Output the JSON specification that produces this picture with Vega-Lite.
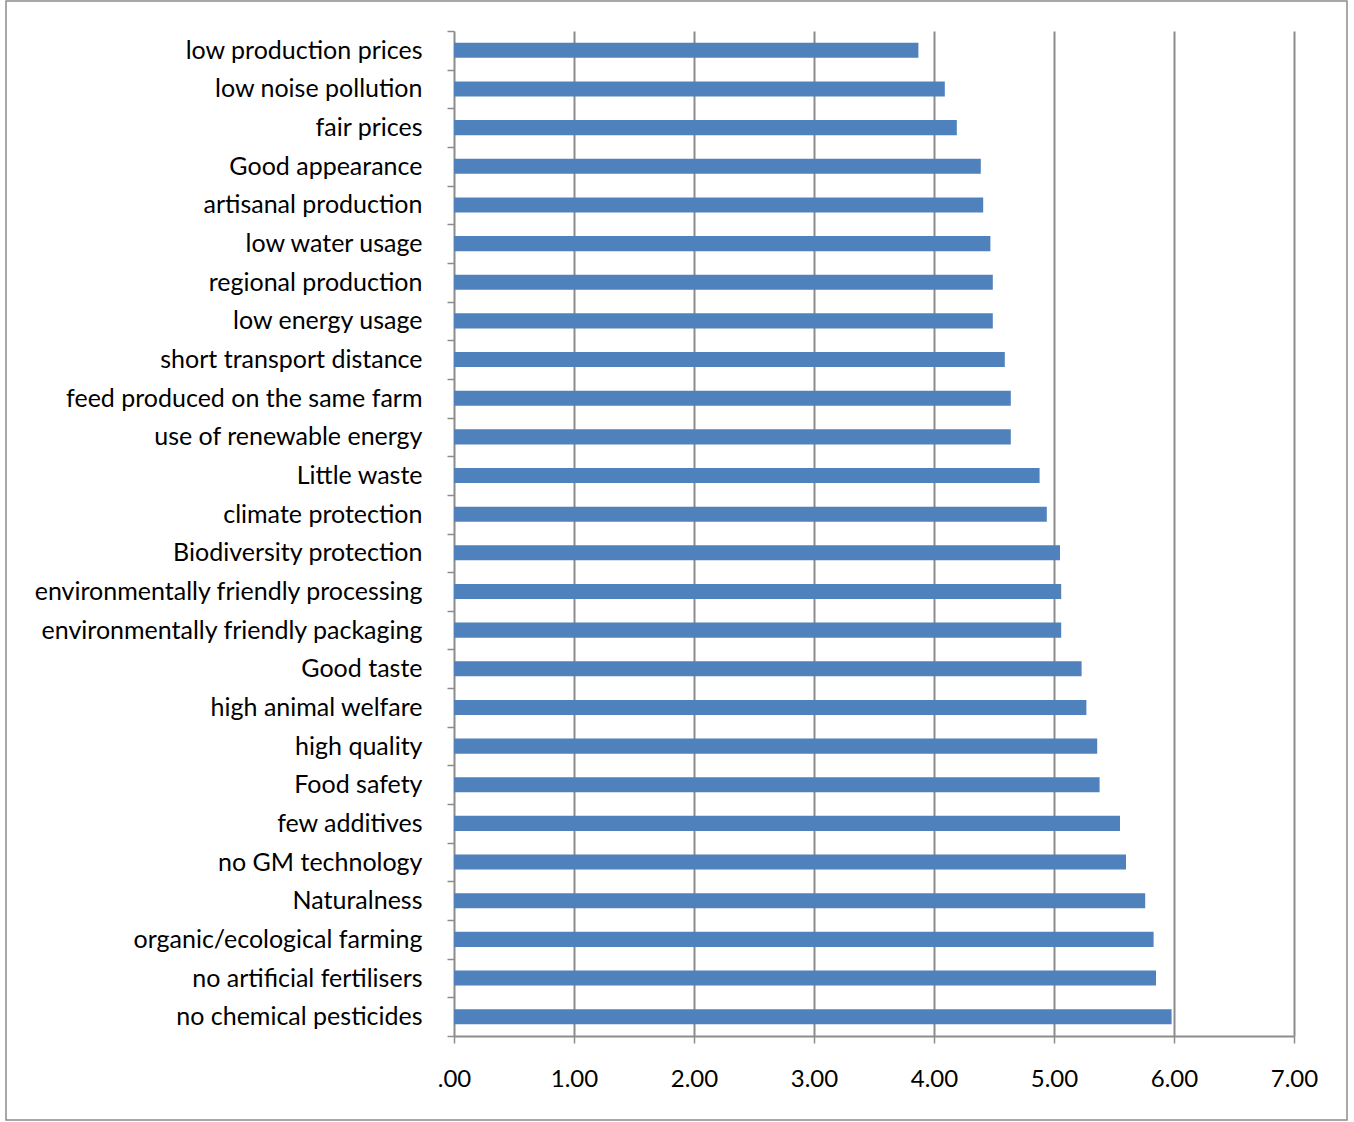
{
  "$schema": "https://vega.github.io/schema/vega-lite/v6.json",
  "width": 1341,
  "height": 1119,
  "autosize": "none",
  "padding": {"left": 6, "top": 1, "right": 7, "bottom": 2},
  "background": "white",
  "config": {
    "font": "Lato",
    "view": {"stroke": "#8c8c8c", "strokeWidth": 1.5}
  },
  "data": {
    "values": [
      {"attribute": "low production prices", "mean": 3.87},
      {"attribute": "low noise pollution", "mean": 4.09},
      {"attribute": "fair prices", "mean": 4.19},
      {"attribute": "Good appearance", "mean": 4.39},
      {"attribute": "artisanal production", "mean": 4.41},
      {"attribute": "low water usage", "mean": 4.47},
      {"attribute": "regional production", "mean": 4.49},
      {"attribute": "low energy usage", "mean": 4.49},
      {"attribute": "short transport distance", "mean": 4.59},
      {"attribute": "feed produced on the same farm", "mean": 4.64},
      {"attribute": "use of renewable energy", "mean": 4.64},
      {"attribute": "Little waste", "mean": 4.88},
      {"attribute": "climate protection", "mean": 4.94},
      {"attribute": "Biodiversity protection", "mean": 5.05},
      {"attribute": "environmentally friendly processing", "mean": 5.06},
      {"attribute": "environmentally friendly packaging", "mean": 5.06},
      {"attribute": "Good taste", "mean": 5.23},
      {"attribute": "high animal welfare", "mean": 5.27},
      {"attribute": "high quality", "mean": 5.36},
      {"attribute": "Food safety", "mean": 5.38},
      {"attribute": "few additives", "mean": 5.55},
      {"attribute": "no GM technology", "mean": 5.60},
      {"attribute": "Naturalness", "mean": 5.76},
      {"attribute": "organic/ecological farming", "mean": 5.83},
      {"attribute": "no artificial fertilisers", "mean": 5.85},
      {"attribute": "no chemical pesticides", "mean": 5.98}
    ]
  },
  "encoding": {
    "y": {
      "field": "attribute",
      "type": "nominal",
      "sort": null,
      "scale": {"range": [30, 1035], "paddingInner": 0, "paddingOuter": 0},
      "axis": {
        "title": null,
        "orient": "left",
        "offset": -448,
        "domain": true,
        "domainColor": "#8c8c8c",
        "domainWidth": 2,
        "ticks": true,
        "tickBand": "extent",
        "tickSize": 7,
        "tickColor": "#8c8c8c",
        "tickWidth": 1.5,
        "grid": false,
        "labelFontSize": 25,
        "labelColor": "#000000",
        "labelPadding": 25,
        "labelLimit": 0
      }
    }
  },
  "layer": [
    {
      "mark": {"type": "bar", "color": "#4F81BD", "height": {"band": 0.39}},
      "encoding": {
        "x": {
          "field": "mean",
          "type": "quantitative",
          "scale": {"domain": [0, 7], "range": [448, 1288], "nice": false, "zero": true},
          "axis": {
            "title": null,
            "orient": "bottom",
            "offset": -84,
            "values": [0, 1, 2, 3, 4, 5, 6, 7],
            "labelExpr": "datum.value == 0 ? '.00' : format(datum.value, '.2f')",
            "domain": true,
            "domainColor": "#8c8c8c",
            "domainWidth": 2,
            "ticks": true,
            "tickSize": 7,
            "tickColor": "#8c8c8c",
            "tickWidth": 1.5,
            "grid": false,
            "labelFontSize": 24,
            "labelColor": "#000000",
            "labelPadding": 24,
            "labelFlush": false
          }
        }
      }
    },
    {
      "mark": {"type": "bar", "opacity": 0, "height": {"band": 0.39}},
      "encoding": {
        "x": {
          "field": "mean",
          "type": "quantitative",
          "axis": {
            "title": null,
            "orient": "top",
            "values": [1, 2, 3, 4, 5, 6, 7],
            "domain": false,
            "ticks": false,
            "labels": false,
            "grid": true,
            "gridColor": "#8c8c8c",
            "gridWidth": 2
          }
        }
      }
    }
  ],
  "resolve": {"axis": {"x": "independent"}}
}
